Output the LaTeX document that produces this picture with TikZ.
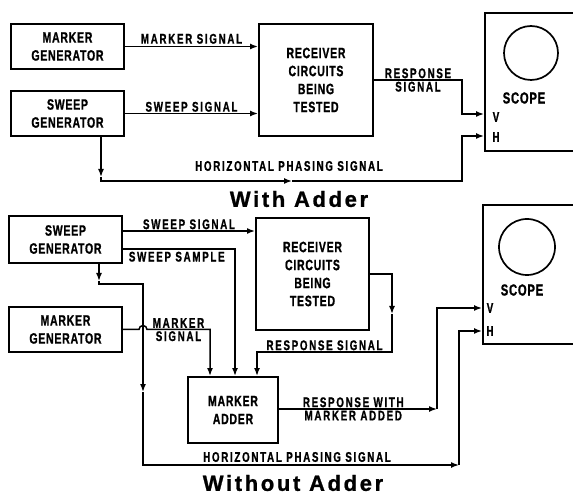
\documentclass[tikz,border=0pt]{standalone}
\usepackage{fontspec}
\setmainfont{Liberation Sans}
\newfontfamily\boxfont{Liberation Sans}[FakeStretch=0.7,LetterSpace=5,FakeBold=1]
\newfontfamily\lblfont{Liberation Sans}[FakeStretch=0.7,LetterSpace=12,FakeBold=1]
\newfontfamily\ttlfont{Liberation Sans}[LetterSpace=12,FakeBold=1]
\usetikzlibrary{arrows.meta,positioning,calc}

\begin{document}
\begin{tikzpicture}[x=1pt,y=-1pt,
    blk/.style={draw,line width=2pt,inner sep=0pt,align=center,
      font=\boxfont\bfseries\fontsize{15}{18}\selectfont},
    lbl/.style={font=\lblfont\bfseries\fontsize{14}{18}\selectfont,align=center,inner sep=2pt},
    pin/.style={font=\boxfont\bfseries\fontsize{14}{16}\selectfont,inner sep=0pt},
    wire/.style={line width=1.5pt},
    arr/.style={wire,-{Latex[length=8pt,width=6pt]}},
    ttl/.style={font=\ttlfont\bfseries\fontsize{22}{24}\selectfont}]
  \useasboundingbox (0,0) rectangle (573,494);

  % with adder
  \node[blk,minimum width=113,minimum height=45] (mgen1) at (67.5,46.5) {MARKER\\GENERATOR};
  \node[blk,minimum width=113,minimum height=45] (sgen1) at (67.5,113.5) {SWEEP\\GENERATOR};
  \node[blk,minimum width=114,minimum height=112] (rcv1) at (316,80)
    {RECEIVER\\CIRCUITS\\BEING\\TESTED};
  \node[blk,minimum width=108,minimum height=138,anchor=north west] (scope1) at (484,12) {};
  \node[draw,circle,line width=1.7pt,minimum size=54] (crt1) at (531,53) {};
  \node[pin,font=\boxfont\bfseries\fontsize{16}{18}\selectfont] (sname1) at (524,98) {SCOPE};
  \node[pin] (vin1) at (496,117) {V};
  \node[pin] (hin1) at (496,137) {H};

  \coordinate (hdn1) at (101,177);
  \coordinate (hmid1) at (292,181);
  \draw[arr] (mgen1.east) -- node[lbl,above=0pt] {MARKER SIGNAL} (mgen1.east -| rcv1.west);
  \draw[arr] (sgen1.east) -- node[lbl,above=-1pt] {SWEEP SIGNAL} (sgen1.east -| rcv1.west);
  \draw[arr] (rcv1.east) -- node[lbl,above=-1pt] {RESPONSE} node[lbl,below=-1pt] {SIGNAL} (462,80)
    -- (462,114) -- (scope1.west |- 0,114);
  \draw[arr] (sgen1.south -| hdn1) -- (hdn1);
  \draw[arr] (hdn1) -- (hdn1 |- hmid1) -- (hmid1);
  \draw[arr] (hmid1) -- (462,181) -- (462,136) -- (scope1.west |- 0,136);
  \node[lbl] (hps1) at (289,166) {HORIZONTAL PHASING SIGNAL};

  \node[ttl] (title1) at (299,199) {With Adder};

  % without adder
  \node[blk,minimum width=113,minimum height=47] (sgen2) at (65.5,239.5) {SWEEP\\GENERATOR};
  \node[blk,minimum width=113,minimum height=45] (mgen2) at (65.5,329.5) {MARKER\\GENERATOR};
  \node[blk,minimum width=113,minimum height=112] (rcv2) at (312.5,274)
    {RECEIVER\\CIRCUITS\\BEING\\TESTED};
  \node[blk,minimum width=90,minimum height=66] (madd2) at (233,410) {MARKER\\ADDER};
  \node[blk,minimum width=108,minimum height=139,anchor=north west] (scope2) at (482,204) {};
  \node[draw,circle,line width=1.7pt,minimum size=56] (crt2) at (527,247) {};
  \node[pin,font=\boxfont\bfseries\fontsize{16}{18}\selectfont] (sname2) at (522,290) {SCOPE};
  \node[pin] (vin2) at (490,308) {V};
  \node[pin] (hin2) at (490,331) {H};

  \coordinate (sdn2) at (99,281);
  \coordinate (hdn2) at (143,392);
  \coordinate (hrt2) at (459,465);
  \coordinate (rdn2) at (392,314);
  \coordinate (rmk2) at (437,409);
  \draw[arr] (sgen2.east |- 0,231) -- node[lbl,above=-1pt] {SWEEP SIGNAL} (rcv2.west |- 0,231);
  \draw[arr] (sgen2.east |- 0,249) -- node[lbl,below=0pt,pos=0.48] {SWEEP SAMPLE} (235,249)
    -- (235,0 |- madd2.north);
  \draw[arr] (sgen2.south -| sdn2) -- (sdn2);
  \draw[arr] (sdn2) -- (99,284) -- (143,284) -- (hdn2);
  \draw[arr] (hdn2) -- (hdn2 |- hrt2) -- (hrt2);
  \draw[arr] (hrt2) -- (459,331) -- (scope2.west |- 0,331);
  \node[lbl] (hps2) at (297,457) {HORIZONTAL PHASING SIGNAL};
  \draw[arr] (mgen2.east) -- (139,329.5) arc[start angle=180,end angle=360,radius=4]
    -- node[lbl,above=-1pt] {MARKER} node[lbl,below=-1pt] {SIGNAL} (210,329.5)
    -- (210,0 |- madd2.north);
  \draw[arr] (rcv2.east) -- (392,274) -- (rdn2);
  \draw[arr] (rdn2) -- (392,352)
    -- node[lbl,above=-1pt] {RESPONSE SIGNAL} (257,352) -- (257,0 |- madd2.north);
  \draw[arr] (madd2.east |- rmk2)
    -- node[lbl,above=-1pt,pos=0.47] {RESPONSE WITH} node[lbl,below=-1pt,pos=0.47] {MARKER ADDED} (rmk2);
  \draw[arr] (rmk2) -- (437,308) -- (scope2.west |- 0,308);

  \node[ttl] (title2) at (293,483) {Without Adder};
\end{tikzpicture}
\end{document}
